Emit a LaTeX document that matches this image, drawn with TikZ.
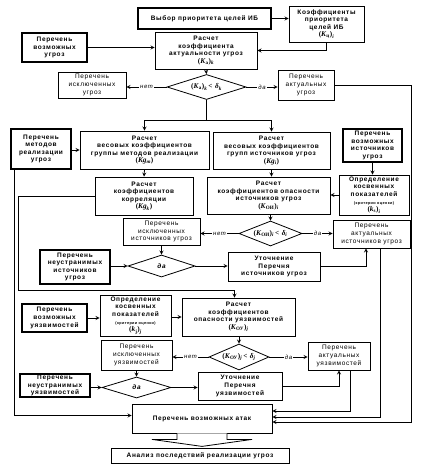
\documentclass[tikz,border=0pt]{standalone}
\usepackage{fontspec}
\setmainfont{Liberation Sans}[LetterSpace=10]
\newfontfamily\frm{Liberation Serif}[Scale=1.12]
\usetikzlibrary{shapes.geometric}
\newcommand{\coef}[3]{{\frm(\textbf{\textit{#1}}\textsubscript{#2})\textsubscript{\textit{#3}}}}
\newcommand{\coefg}[2]{{\frm(\textbf{\textit{Kg}}\textsubscript{\textit{#1}})#2}}
\newcommand{\crit}{{\fontsize{3.8}{4.6}\selectfont(критерии оценки)}}
\tikzset{
  box/.style={draw,line width=0.8pt,fill=white,align=center,inner sep=1pt},
  thickbox/.style={box,line width=2.4pt},
  plain/.style={font=\fontsize{6.5}{7.6}\selectfont\mdseries},
  decision/.style={diamond,draw,line width=0.8pt,fill=white,align=center,inner sep=0pt},
  sz/.style 2 args={minimum width=#1pt,minimum height=#2pt},
  lbl/.style={fill=white,inner sep=1pt,font=\fontsize{6}{7}\selectfont\itshape},
}
\begin{document}
\begin{tikzpicture}[x=1pt,y=-1pt,>=stealth,line width=0.8pt,
    font=\fontsize{6.5}{7.6}\selectfont\bfseries]
  \useasboundingbox (0,0) rectangle (423,470);
  % threats
  \node[thickbox,sz={133}{21}] (b_choice) at (204.5,18.5) {Выбор приоритета целей ИБ};
  \node[box,sz={75}{36}] (b_prio) at (326.5,24) {Коэффициенты\\приоритета\\целей ИБ\\\coef{K}{ц}{i}};
  \node[thickbox,sz={65}{29}] (b_threats) at (54.5,47.5) {Перечень\\возможных\\угроз};
  \node[box,sz={102}{37}] (b_act) at (206,50.5) {Расчет\\коэффициента\\актуальности угроз\\\coef{K}{а}{k}};
  \node[decision,sz={79}{25}] (d_act) at (206.5,87) {\makebox[0pt]{\coef{K}{а}{k}\,{\frm <} {\frm\textit{δ}\textsubscript{\textit{k}}}}};
  \node[box,plain,sz={68}{26}] (b_excl) at (92,85) {Перечень\\исключенных\\угроз};
  \node[box,plain,sz={56}{30}] (b_actual) at (306,85) {Перечень\\актуальных\\угроз};
  % sources of threats
  \node[thickbox,sz={60}{40}] (b_methods) at (41,149) {Перечень\\методов\\реализации\\угроз};
  \node[box,sz={129}{38}] (b_wm) at (144.5,150) {Расчет\\весовых коэффициентов\\группы методов реализации\\\coefg{m}{}};
  \node[box,sz={117}{37}] (b_wi) at (271.5,150.5) {Расчет\\весовых коэффициентов\\групп источников угроз\\\coefg{i}{}};
  \node[thickbox,sz={59}{33}] (b_sources) at (372.5,145.5) {Перечень\\возможных\\источников\\угроз};
  \node[box,sz={98}{38}] (b_corr) at (144,196) {Расчет\\коэффициентов\\корреляции\\\coefg{k}{}};
  \node[box,sz={123}{37}] (b_danger_i) at (268.5,195.5) {Расчет\\коэффициентов опасности\\источников угроз\\\coef{K}{ОИ}{i}};
  \node[box,sz={70}{40}] (b_ind_i) at (374,195) {Определение\\косвенных\\показателей\\\crit\\\coef{k}{s}{i}};
  \node[decision,sz={63}{25}] (d_i) at (270.5,233.5) {\makebox[0pt]{\coef{K}{ОИ}{i}\,{\frm <} {\frm\textit{δ}\textsubscript{\textit{i}}}}};
  \node[box,plain,sz={77}{27}] (b_excl_i) at (161.5,231.5) {Перечень\\исключенных\\источников угроз};
  \node[box,plain,sz={77}{28}] (b_actual_i) at (371.5,234) {Перечень\\актуальных\\источников угроз};
  \node[decision,sz={67}{22}] (d_yes_i) at (161.5,266) {\makebox[0pt]{\itshape да}};
  \node[thickbox,sz={70}{34}] (b_fixed_i) at (75,267) {Перечень\\неустранимых\\источников\\угроз};
  \node[box,sz={92}{29}] (b_refine_i) at (274,266.5) {Уточнение\\Перечня\\источников угроз};
  % vulnerabilities
  \node[thickbox,sz={65}{28}] (b_vuln) at (54.5,318) {Перечень\\возможных\\уязвимостей};
  \node[box,sz={71}{41}] (b_ind_j) at (135.5,315.5) {Определение\\косвенных\\показателей\\\crit\\\coef{k}{j}{j}};
  \node[box,sz={113}{38}] (b_danger_j) at (238.5,317) {Расчет\\коэффициентов\\опасности уязвимостей\\\coef{K}{ОУ}{j}};
  \node[decision,sz={60}{26}] (d_j) at (239,357) {\makebox[0pt]{\coef{K}{ОУ}{j}\,{\frm <} {\frm\textit{δ}\textsubscript{\textit{j}}}}};
  \node[box,plain,sz={71}{30}] (b_excl_j) at (136.5,355) {Перечень\\исключенных\\уязвимостей};
  \node[box,plain,sz={62}{28}] (b_actual_j) at (339,356) {Перечень\\актуальных\\уязвимостей};
  \node[decision,sz={69}{21}] (d_yes_j) at (136.5,387.5) {\makebox[0pt]{\itshape да}};
  \node[thickbox,sz={70}{23}] (b_fixed_j) at (55,385.5) {Перечень\\неустранимых\\уязвимостей};
  \node[box,sz={84}{28}] (b_refine_j) at (240,386) {Уточнение\\Перечня\\уязвимостей};
  % result
  \node[box,sz={140}{29}] (b_attacks) at (202,418.5) {Перечень возможных атак};
  \node[box,sz={178}{15}] (b_analysis) at (200,455.5) {Анализ последствий реализации угроз};

  % connectors, top part
  \draw[->] (b_choice.east) -- (b_choice.east -| b_prio.west);
  \draw[->] (b_prio.south) |- (b_act.east);
  \draw[->] (b_threats.east) -- (b_threats.east -| b_act.west);
  \draw[->] (b_act.south) -- (d_act.north);
  \draw[->] (d_act.west) -- node[lbl]{нет} (d_act.west -| b_excl.east);
  \draw[->] (d_act.east) -- node[lbl]{да} (d_act.east -| b_actual.west);
  \coordinate (rail) at (411,422);
  \draw[->] (b_actual.east) -| (rail) -- (rail -| b_attacks.east);
  \coordinate (split) at (206.5,120);
  \draw (d_act.south) -- (split);
  \draw[->] (split) -| (b_wm.north);
  \draw[->] (split) -| (b_wi.north);
  % sources
  \draw[->] (b_methods.east |- b_wm.west) -- (b_wm.west);
  \draw[->] ([xshift=-27pt]b_methods.south) |- ([yshift=3pt]b_attacks.west);
  \draw[->] (b_wm.south) -- (b_corr.north);
  \draw[->] (b_wi.south) -- (b_wi.south |- b_danger_i.north);
  \draw[->] (b_sources.south) -- (b_sources.south |- b_ind_i.north);
  \draw[->] (b_ind_i.west) -- (b_ind_i.west -| b_danger_i.east);
  \coordinate (corr) at (18,290);
  \draw[->] (b_corr.west) -| (corr) -| ([xshift=-4pt]b_danger_j.north);
  \draw[->] (d_i.north |- b_danger_i.south) -- (d_i.north);
  \draw[->] (d_i.west) -- node[lbl]{нет} (d_i.west -| b_excl_i.east);
  \draw[->] (d_i.east) -- node[lbl]{да} (d_i.east -| b_actual_i.west);
  \draw[->] (b_excl_i.south) -- (d_yes_i.north);
  \draw[->] (b_fixed_i.east |- d_yes_i.west) -- (d_yes_i.west);
  \draw[->] (d_yes_i.east) -- (d_yes_i.east -| b_refine_i.west);
  \draw[->] (b_refine_i.east) -| ([xshift=-5.5pt]b_actual_i.south);
  \draw[->] ([xshift=8.5pt]b_actual_i.south) |- ([yshift=1.5pt]b_attacks.east);
  % vulnerabilities
  \draw[->] (b_vuln.east) -- (b_vuln.east -| b_ind_j.west);
  \draw[->] (b_ind_j.east |- b_danger_j.west) -- (b_danger_j.west);
  \draw[->] (d_j.north |- b_danger_j.south) -- (d_j.north);
  \draw[->] (d_j.west) -- node[lbl]{нет} (d_j.west -| b_excl_j.east);
  \draw[->] (d_j.east) -- node[lbl]{да} (d_j.east -| b_actual_j.west);
  \draw[->] (b_excl_j.south) -- (d_yes_j.north);
  \draw[->] (b_fixed_j.east |- d_yes_j.west) -- (d_yes_j.west);
  \draw[->] (d_yes_j.east) -- (d_yes_j.east -| b_refine_j.west);
  \draw[->] (b_refine_j.east) -| (b_actual_j.south);
  \draw[->] ([xshift=11pt]b_actual_j.south) |- ([yshift=7.5pt]b_attacks.east);
  % block arrow to the analysis
  \draw[fill=white] ([xshift=-25pt]b_attacks.south) -- ++(0,6) -- ++(-25,0) -- ++(50,7)
    -- ++(50,-7) -- ++(-25,0) -- ++(0,-6);
\end{tikzpicture}
\end{document}
